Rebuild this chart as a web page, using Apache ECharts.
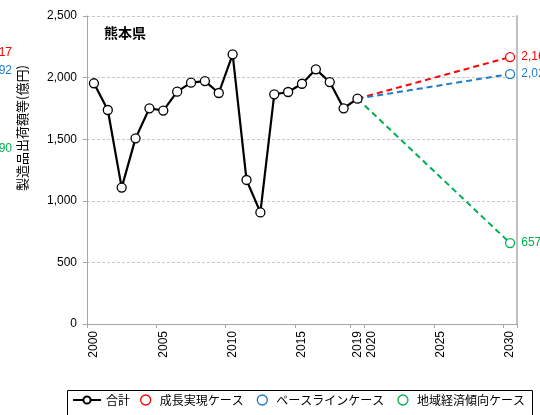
<!DOCTYPE html>
<html>
<head>
<meta charset="utf-8">
<script src="https://cdn.jsdelivr.net/npm/echarts@6/dist/echarts.min.js"></script>
<style>
  html, body { margin: 0; padding: 0; background: #fff; }
  #chart { width: 540px; height: 415px; }
</style>
</head>
<body>
<div id="chart"></div>
<script>
const years = [];
for (let y = 2000; y <= 2030; y++) years.push(String(y));
const shownYears = ["2000", "2005", "2010", "2015", "2019", "2020", "2025", "2030"];

// 合計 2000-2019
const totalValues = [1954, 1737, 1107, 1507, 1751, 1732, 1886, 1959, 1972, 1875,
  2189, 1169, 906, 1864, 1883, 1950, 2067, 1964, 1751, 1829];

const scenarioNames = ["成長実現ケース", "ベースラインケース", "地域経済傾向ケース"];
const scenarioColors = ["#ff0000", "#1f7bc8", "#00b050"];
const scenario2030 = [2167, 2029, 657];

// labels clipped at the left edge of the picture
const leftLabels = ["17", "92", "90"];
const leftLabelY = [54, 72, 150];

const font = "'Liberation Sans', 'Noto Sans CJK JP', sans-serif";
const jpFont = "'Noto Sans CJK JP', sans-serif";
const fmt = (v) => v.toLocaleString("en-US");

const myChart = echarts.init(document.getElementById("chart"));

const scenarioSeries = scenarioNames.map((name, i) => {
  const data = years.map(() => null);
  data[19] = { value: totalValues[19], symbol: "none" };
  data[30] = {
    value: scenario2030[i],
    label: {
      show: true,
      position: "right",
      distance: 6,
      color: scenarioColors[i],
      fontSize: 12,
      fontFamily: font,
      formatter: (p) => fmt(p.value),
    },
  };
  return {
    name,
    type: "line",
    data,
    connectNulls: true,
    showAllSymbol: true,
    symbol: "circle",
    symbolSize: 9,
    lineStyle: { color: scenarioColors[i], width: 2, type: [6, 4] },
    itemStyle: { color: "#fff", borderColor: scenarioColors[i], borderWidth: 1.3 },
    z: 2,
  };
});

const options = {
  animation: false,
  textStyle: { fontFamily: font },
  grid: { left: 87, right: 23, top: 16, bottom: 91 },
  title: {
    text: "熊本県",
    left: 99,
    top: 21,
    textStyle: { fontSize: 14, fontWeight: "bold", color: "#000", fontFamily: jpFont },
  },
  legend: [
    {
      left: 72,
      top: 394,
      padding: 0,
      itemWidth: 28,
      itemHeight: 9,
      textStyle: { fontSize: 12, color: "#000", fontFamily: jpFont },
      data: ["合計"],
    },
    {
      left: 140,
      top: 394,
      padding: 0,
      itemGap: 13,
      itemWidth: 12,
      itemHeight: 10,
      textStyle: { fontSize: 12, color: "#000", fontFamily: jpFont, padding: [0, 0, 0, 3] },
      data: scenarioNames.map((name, i) => ({
        name,
        icon: "circle",
        itemStyle: { color: "#fff", borderColor: scenarioColors[i], borderWidth: 1.3 },
      })),
    },
  ],
  xAxis: {
    type: "category",
    data: years,
    boundaryGap: true,
    axisLine: { lineStyle: { color: "#a6a6a6", width: 1 } },
    axisTick: { show: true, length: 4, lineStyle: { color: "#a6a6a6" } },
    axisLabel: {
      rotate: 90,
      fontSize: 12,
      color: "#000",
      margin: 7,
      interval: (idx, val) => shownYears.includes(val),
    },
  },
  yAxis: [
    {
      type: "value",
      min: 0,
      max: 2500,
      interval: 500,
      name: "製造品出荷額等(億円)",
      nameLocation: "middle",
      nameRotate: 90,
      nameGap: 58,
      nameTextStyle: { fontSize: 13, color: "#000", fontFamily: jpFont, padding: [0, 0, 0, 84] },
      axisLine: { show: true, lineStyle: { color: "#a6a6a6" } },
      axisTick: { show: true, length: 4, lineStyle: { color: "#a6a6a6" } },
      axisLabel: { fontSize: 12, color: "#000", margin: 10, formatter: (v) => fmt(v) },
      splitLine: { show: true, lineStyle: { color: "#c8c8c8", type: [3, 2] } },
    },
    {
      type: "value",
      min: 0,
      max: 2500,
      interval: 500,
      position: "right",
      axisLine: { show: true, lineStyle: { color: "#bfbfbf", width: 2 } },
      axisTick: { show: false },
      axisLabel: { show: false },
      splitLine: { show: false },
    },
  ],
  graphic: [
    {
      type: "rect",
      left: 65,
      top: 388,
      shape: { width: 465, height: 30 },
      style: { fill: "none", stroke: "#000", lineWidth: 1 },
    },
    ...leftLabels.map((t, i) => ({
      type: "text",
      right: 528,
      top: leftLabelY[i] - 7,
      style: { text: t, fill: scenarioColors[i], fontSize: 12, fontFamily: font },
    })),
  ],
  series: [
    ...scenarioSeries,
    {
      name: "合計",
      type: "line",
      data: totalValues,
      showAllSymbol: true,
      symbol: "circle",
      symbolSize: 9,
      lineStyle: { color: "#000", width: 2.2 },
      itemStyle: { color: "#fff", borderColor: "#000", borderWidth: 1.3 },
      z: 5,
    },
  ],
};

myChart.setOption(options);
</script>
</body>
</html>
